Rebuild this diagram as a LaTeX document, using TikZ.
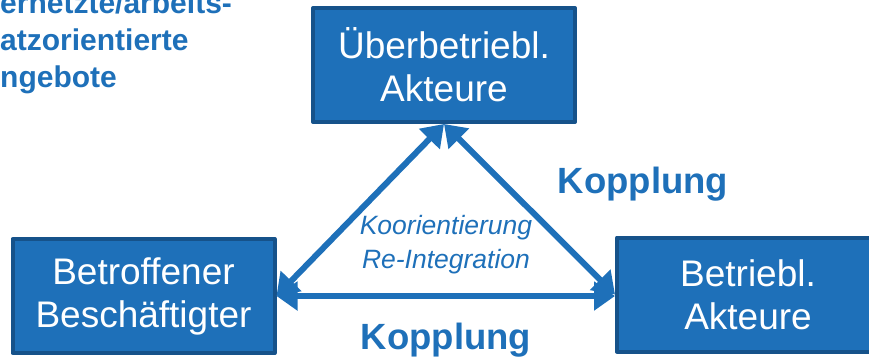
\documentclass[tikz,border=0pt]{standalone}
\usepackage{fontspec}
\setmainfont{Liberation Sans}
\usetikzlibrary{arrows.meta}
\definecolor{kastenblau}{RGB}{30,112,185}
\definecolor{randblau}{RGB}{22,82,138}
\definecolor{schriftblau}{RGB}{30,112,185}

\begin{document}
\begin{tikzpicture}[x=1pt, y=-1pt, line cap = round, line join = round, >={Triangle[length=21pt, width=28pt]}]
\tikzstyle{akteur}=[rectangle, fill=kastenblau, draw=randblau, line width=4pt, minimum width=262pt, minimum height=114pt, inner sep=0pt, align=center, text=white, font=\fontsize{37}{43}\selectfont]
\tikzstyle{pfeil}=[<->, line width=6pt, color=kastenblau]
\tikzstyle{kopplung}=[text=schriftblau, font=\bfseries\fontsize{36.5}{42}\selectfont, inner sep=0pt]
\useasboundingbox (0,0) rectangle (869,356);

\node[akteur] (oben) at (444,65) {Überbetriebl.\\Akteure};
\node[akteur] (links) at (143.5,296) {Betroffener\\Beschäftigter};
\node[akteur] (rechts) at (748,294.5) {Betriebl.\\Akteure};

\draw[pfeil] (oben.south) -- (links.east);
\draw[pfeil] (oben.south) -- (rechts.west);
\draw[pfeil] (links.east) -- (links.east -| rechts.west);

\node[kopplung, anchor=base] (kopplung1) at (643,193) {Kopplung};
\node[kopplung, anchor=base] (kopplung2) at (446,349) {Kopplung};
\node[text=schriftblau, align=center, font=\itshape\fontsize{26.5}{34}\selectfont] (mitte) at (446,245) {Koorientierung\\Re-Integration};

% angeschnittener Text oben links
\node[anchor=north west, inner sep=0pt, align=left, text=schriftblau, font=\bfseries\fontsize{30}{37}\selectfont] (angebote) at (0,-8) {ernetzte/arbeits-\\atzorientierte\\ngebote};
\end{tikzpicture}
\end{document}
